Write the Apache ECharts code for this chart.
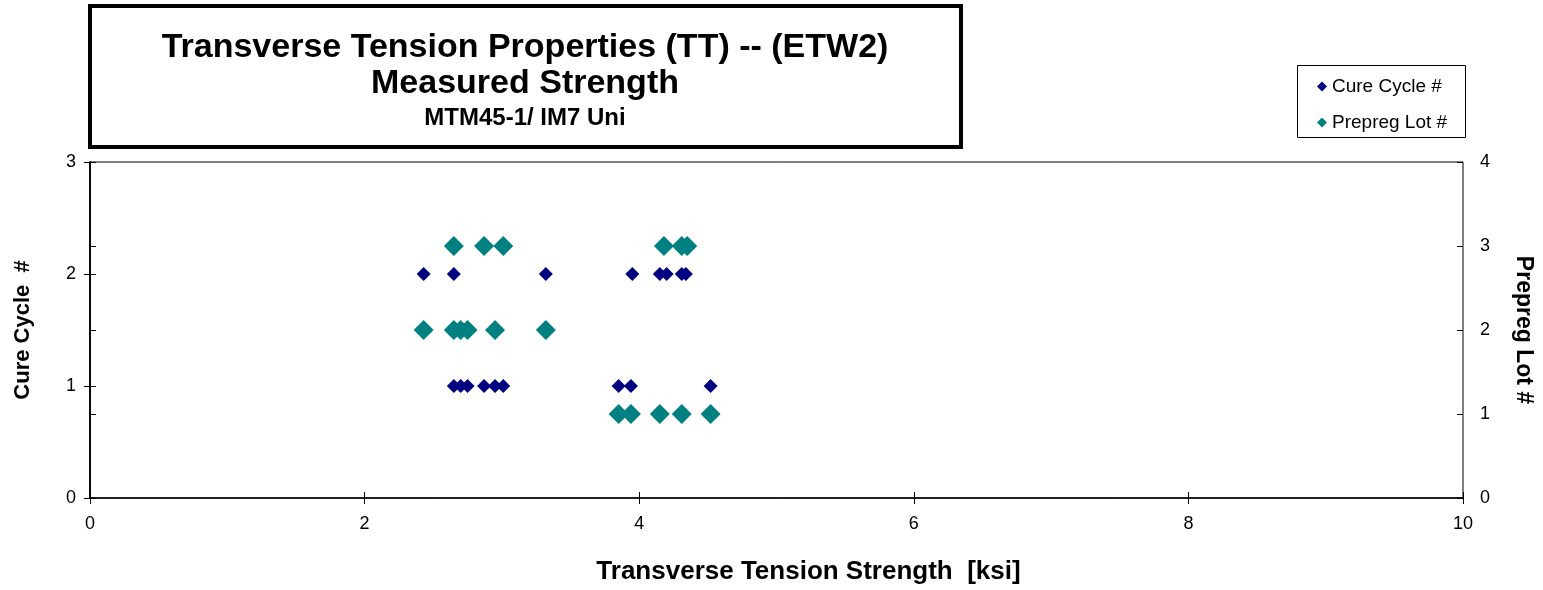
<!DOCTYPE html>
<html><head><meta charset="utf-8">
<script src="https://cdn.jsdelivr.net/npm/echarts@6/dist/echarts.min.js"></script>
<style>html,body{margin:0;padding:0;background:#fff;overflow:hidden}#c{width:1543px;height:590px}</style>
</head><body><div id="c"></div>
<script>
// Data
const cureCycle1X = [2.65, 2.70, 2.75, 2.87, 2.95, 3.01, 3.85, 3.94, 4.52];
const cureCycle2X = [2.43, 2.65, 3.32, 3.95, 4.15, 4.20, 4.31, 4.34];
const lot1X = [3.85, 3.94, 4.15, 4.31, 4.52];
const lot2X = [2.43, 2.65, 2.70, 2.75, 2.95, 3.32];
const lot3X = [2.65, 2.87, 3.01, 4.18, 4.31, 4.35];
const titleLines = ["Transverse Tension Properties (TT) -- (ETW2)", "Measured Strength", "MTM45-1/ IM7 Uni"];
const seriesNames = ["Cure Cycle #", "Prepreg Lot #"];
const xName = "Transverse Tension Strength  [ksi]";
const yLeftName = "Cure Cycle  #";
const yRightName = "Prepreg Lot #";

const cureData = [].concat(cureCycle1X.map(x => [x, 1]), cureCycle2X.map(x => [x, 2]));
const lotData = [].concat(lot1X.map(x => [x, 1]), lot2X.map(x => [x, 2]), lot3X.map(x => [x, 3]));

const F = "'Liberation Sans', Arial, sans-serif";
const chart = echarts.init(document.getElementById('c'), null, { width: 1543, height: 590 });
chart.setOption({
  animation: false,
  grid: { left: 90, width: 1373, top: 162, height: 338, show: true, borderColor: '#000', borderWidth: 1 },
  graphic: [
    { type: 'rect', shape: { x: 90, y: 6, width: 871, height: 141 }, style: { fill: '#fff', stroke: '#000', lineWidth: 4 } },
    { type: 'text', x: 525, y: 48, style: { text: titleLines[0], font: 'bold 34px ' + F, fill: '#000', textAlign: 'center', textVerticalAlign: 'middle' } },
    { type: 'text', x: 525, y: 84, style: { text: titleLines[1], font: 'bold 34px ' + F, fill: '#000', textAlign: 'center', textVerticalAlign: 'middle' } },
    { type: 'text', x: 525, y: 118, style: { text: titleLines[2], font: 'bold 24px ' + F, fill: '#000', textAlign: 'center', textVerticalAlign: 'middle' } },
    { type: 'rect', shape: { x: 1297.5, y: 65.5, width: 168, height: 72 }, style: { fill: '#fff', stroke: '#000', lineWidth: 1 } }
  ],
  legend: {
    orient: 'vertical', left: 1297, top: 65,
    padding: [12, 10, 6, 20], itemGap: 17,
    itemWidth: 10, itemHeight: 10,
    textStyle: { fontFamily: F, fontSize: 19, color: '#000' },
    data: [
      { name: seriesNames[0], icon: 'diamond', itemStyle: { color: '#000080' } },
      { name: seriesNames[1], icon: 'diamond', itemStyle: { color: '#008080' } }
    ]
  },
  xAxis: [{
    type: 'value', min: 0, max: 10, interval: 2,
    name: xName, nameLocation: 'middle', nameGap: 61,
    nameTextStyle: { fontFamily: F, fontSize: 26, fontWeight: 'bold', color: '#000', padding: [0, 0, 0, 64] },
    axisLine: { lineStyle: { color: '#000', width: 1.5 } },
    axisTick: { show: true, length: 6, lineStyle: { color: '#000' } },
    axisLabel: { fontFamily: F, fontSize: 18, color: '#000', margin: 17 },
    splitLine: { show: false }
  }, {
    type: 'value', min: 0, max: 10, interval: 2, position: 'bottom', gridIndex: 0,
    axisLine: { show: false }, axisLabel: { show: false }, splitLine: { show: false },
    axisTick: { show: true, inside: true, length: 6, lineStyle: { color: '#000' } }
  }],
  yAxis: [{
    type: 'value', min: 0, max: 3, interval: 1, position: 'left',
    name: yLeftName, nameLocation: 'middle', nameGap: 56, nameRotate: 90,
    nameTextStyle: { fontFamily: F, fontSize: 22, fontWeight: 'bold', color: '#000' },
    axisLine: { show: true, lineStyle: { color: '#000', width: 1.5 } },
    axisTick: { show: true, length: 6, lineStyle: { color: '#000' } },
    axisLabel: { fontFamily: F, fontSize: 18, color: '#000', margin: 14 },
    splitLine: { show: false }
  }, {
    type: 'value', min: 0, max: 4, interval: 1, position: 'right',
    name: yRightName, nameLocation: 'middle', nameGap: 49, nameRotate: -90,
    nameTextStyle: { fontFamily: F, fontSize: 23, fontWeight: 'bold', color: '#000' },
    axisLine: { show: true, lineStyle: { color: '#000', width: 1.5 } },
    axisTick: { show: true, length: 6, lineStyle: { color: '#000' } },
    axisLabel: { fontFamily: F, fontSize: 18, color: '#000', margin: 17 },
    splitLine: { show: false }
  }, {
    type: 'value', min: 0, max: 3, interval: 1, position: 'left',
    axisLine: { show: false }, axisLabel: { show: false }, splitLine: { show: false },
    axisTick: { show: true, inside: true, length: 6, lineStyle: { color: '#000' } }
  }, {
    type: 'value', min: 0, max: 4, interval: 1, position: 'right',
    axisLine: { show: false }, axisLabel: { show: false }, splitLine: { show: false },
    axisTick: { show: true, inside: true, length: 6, lineStyle: { color: '#000' } }
  }],
  series: [
    { name: seriesNames[0], type: 'scatter', xAxisIndex: 0, yAxisIndex: 0, symbol: 'diamond', symbolSize: 14,
      itemStyle: { color: '#000080', opacity: 1 }, data: cureData, z: 3 },
    { name: seriesNames[1], type: 'scatter', xAxisIndex: 0, yAxisIndex: 1, symbol: 'diamond', symbolSize: 20,
      itemStyle: { color: '#008080', opacity: 1 }, data: lotData, z: 2 }
  ]
});
</script></body></html>
